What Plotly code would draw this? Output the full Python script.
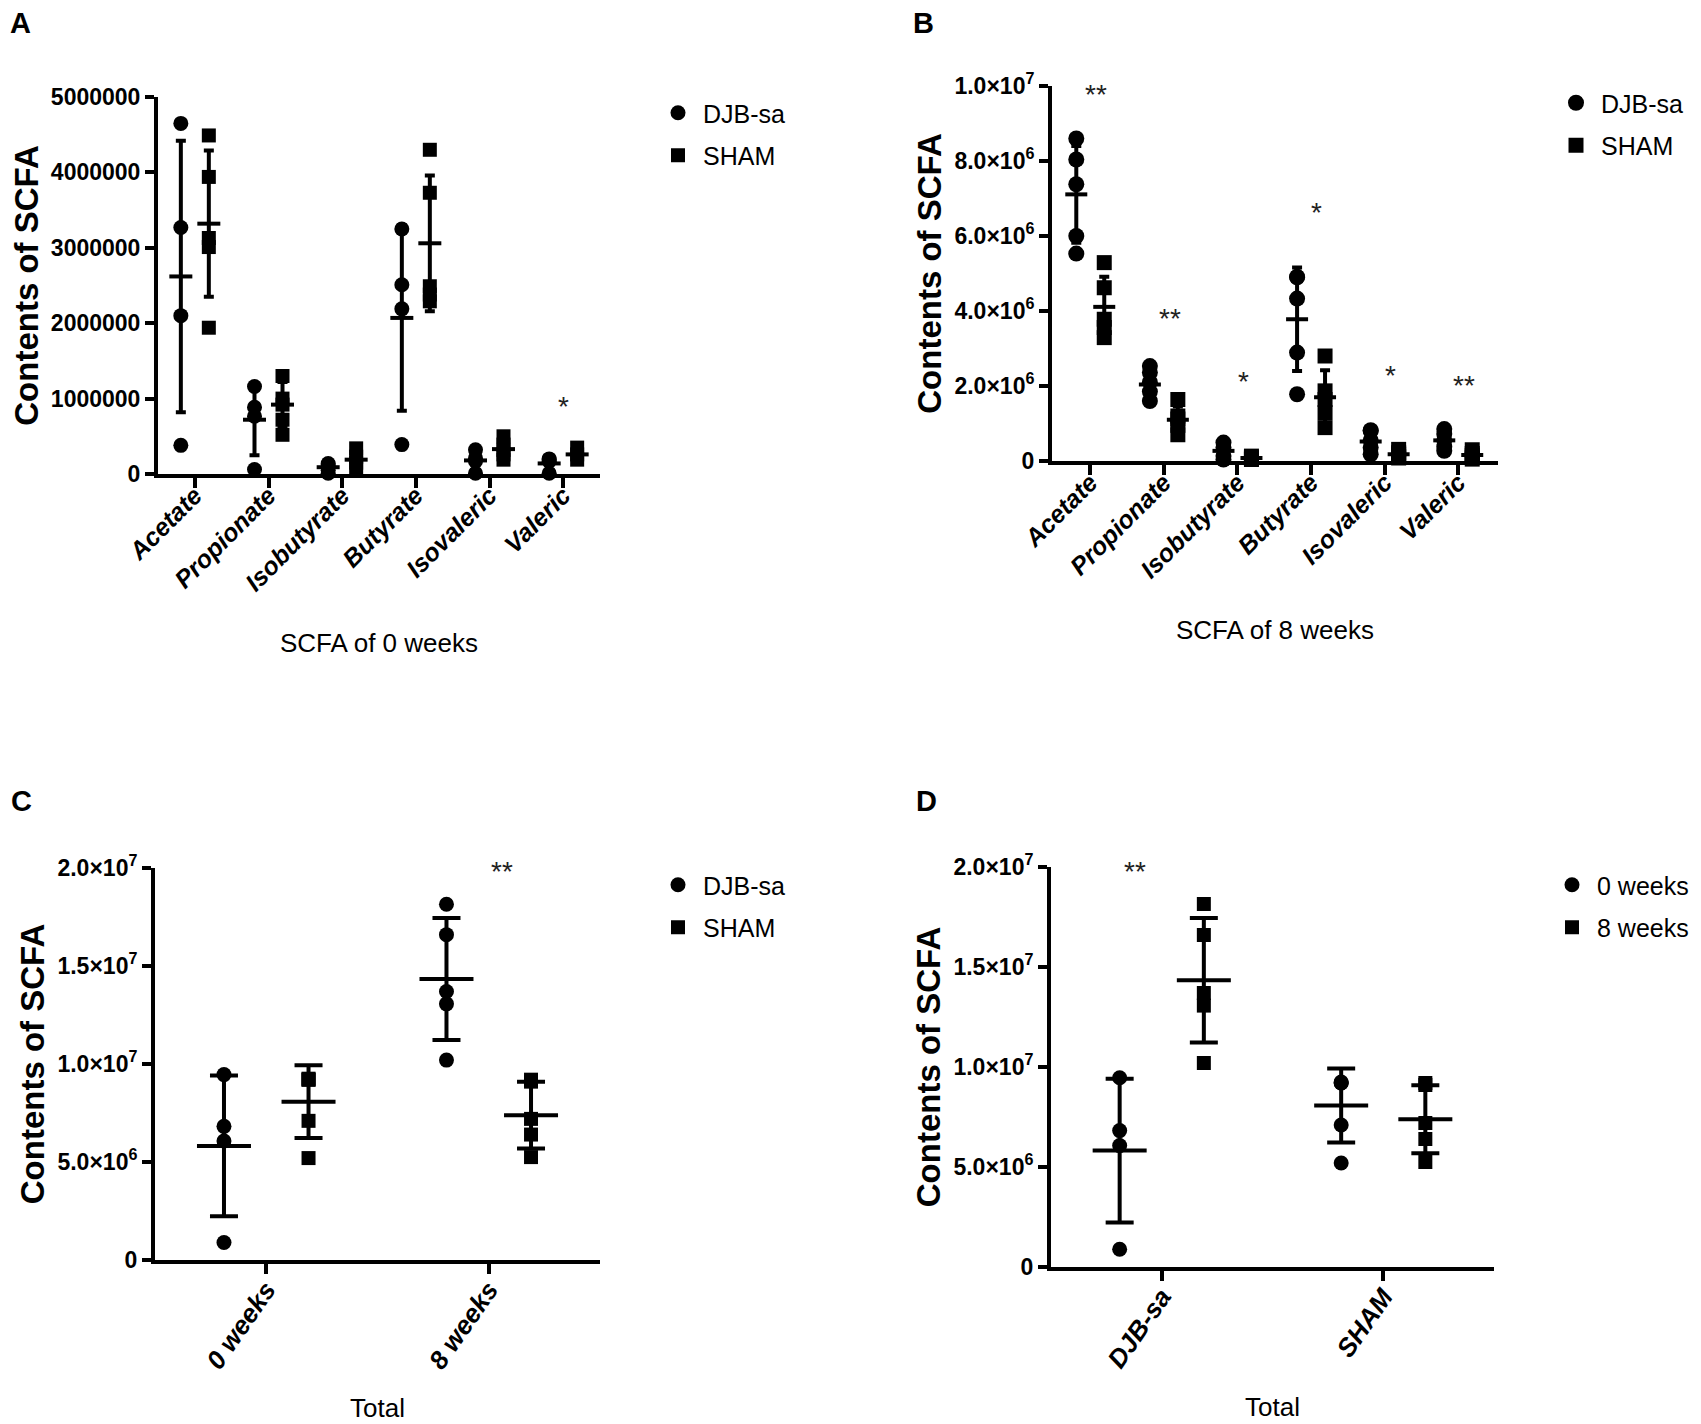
import plotly.graph_objects as go

# ---------------- data ----------------
acids = ["Acetate", "Propionate", "Isobutyrate", "Butyrate", "Isovaleric", "Valeric"]

# Panel A : SCFA of 0 weeks
a_djb_points = [
    [4650000, 3270000, 2100000, 380000],
    [1160000, 885000, 765000, 60000],
    [140000, 120000, 90000, 50000, 10000],
    [3250000, 2510000, 2190000, 390000],
    [320000, 210000, 170000, 10000],
    [200000, 190000, 170000, 10000],
]
a_djb_mean = [2620000, 720000, 90000, 2070000, 180000, 140000]
a_djb_sd = [1800000, 470000, 50000, 1230000, 130000, 90000]
a_sham_points = [
    [4490000, 3940000, 3130000, 3010000, 1940000],
    [1300000, 1000000, 920000, 720000, 520000],
    [340000, 230000, 150000, 80000],
    [4300000, 3730000, 2490000, 2380000, 2290000],
    [500000, 390000, 320000, 260000, 190000],
    [350000, 260000, 190000],
]
a_sham_mean = [3320000, 920000, 190000, 3060000, 330000, 260000]
a_sham_sd = [970000, 300000, 110000, 900000, 120000, 80000]
a_star_idx = [5]
a_star_text = ["*"]
a_star_y = [890000]
a_tickvals = [0, 1000000, 2000000, 3000000, 4000000, 5000000]
a_ticktext = ["0", "1000000", "2000000", "3000000", "4000000", "5000000"]

# Panel B : SCFA of 8 weeks
b_djb_points = [
    [8600000, 8040000, 7380000, 6000000, 5530000],
    [2530000, 2360000, 2100000, 1850000, 1600000],
    [490000, 360000, 130000, 40000],
    [4910000, 4900000, 4330000, 2890000, 1780000],
    [820000, 800000, 550000, 360000, 180000],
    [850000, 720000, 550000, 380000, 270000],
]
b_djb_mean = [7110000, 2040000, 270000, 3780000, 520000, 550000]
b_djb_sd = [1290000, 370000, 200000, 1380000, 270000, 230000]
b_sham_points = [
    [5290000, 4620000, 3780000, 3560000, 3290000],
    [1640000, 1200000, 1120000, 950000, 700000],
    [130000, 90000, 60000, 40000],
    [2800000, 1870000, 1640000, 1290000, 890000],
    [310000, 220000, 180000, 120000, 80000],
    [300000, 200000, 150000, 100000, 50000],
]
b_sham_mean = [4110000, 1100000, 80000, 1700000, 180000, 160000]
b_sham_sd = [800000, 350000, 40000, 720000, 90000, 100000]
b_star_idx = [0, 1, 2, 3, 4, 5]
b_star_text = ["**", "**", "*", "*", "*", "**"]
b_star_y = [9780000, 3800000, 2130000, 6620000, 2270000, 2020000]
b_tickvals = [0, 2000000, 4000000, 6000000, 8000000, 10000000]
b_ticktext = ["0", "2.0×10<sup>6</sup>", "4.0×10<sup>6</sup>", "6.0×10<sup>6</sup>",
              "8.0×10<sup>6</sup>", "1.0×10<sup>7</sup>"]

# Panel C : Total by time
c_groups = ["0 weeks", "8 weeks"]
c_djb_points = [
    [9460000, 6820000, 6070000, 890000],
    [18150000, 16600000, 13700000, 13070000, 10200000],
]
c_djb_mean = [5820000, 14340000]
c_djb_sd = [3590000, 3110000]
c_sham_points = [
    [9250000, 9200000, 9200000, 7100000, 5200000],
    [9200000, 9100000, 7200000, 6400000, 5250000],
]
c_sham_mean = [8080000, 7390000]
c_sham_sd = [1850000, 1700000]
c_star_idx = [1]
c_star_text = ["**"]
c_star_y = [19800000]

# Panel D : Total by group
d_groups = ["DJB-sa", "SHAM"]
d_0w_points = [c_djb_points[0], c_sham_points[0]]
d_0w_mean = [c_djb_mean[0], c_sham_mean[0]]
d_0w_sd = [c_djb_sd[0], c_sham_sd[0]]
d_8w_points = [c_djb_points[1], c_sham_points[1]]
d_8w_mean = [c_djb_mean[1], c_sham_mean[1]]
d_8w_sd = [c_djb_sd[1], c_sham_sd[1]]
d_star_idx = [0]
d_star_text = ["**"]
d_star_y = [19800000]

cd_tickvals = [0, 5000000, 10000000, 15000000, 20000000]
cd_ticktext = ["0", "5.0×10<sup>6</sup>", "1.0×10<sup>7</sup>", "1.5×10<sup>7</sup>", "2.0×10<sup>7</sup>"]

# ---------------- layout helpers ----------------
W, H = 1701, 1424
FONT = "Liberation Sans, Arial, sans-serif"
LW = 4

def px_x(p):
    return p / W

def px_y(p):
    return 1 - p / H

fig = go.Figure()

def add_group(points, means, sds, offset, ax, name, symbol, legend, size, mean_len, cap_hw):
    xs, ys = [], []
    for i, pts in enumerate(points):
        xs += [i + offset] * len(pts)
        ys += pts
    fig.add_trace(go.Scatter(
        x=xs, y=ys, mode="markers", name=name,
        marker=dict(symbol=symbol, size=size, color="black"),
        xaxis="x" + ax, yaxis="y" + ax, legend=legend, legendgroup=legend + name,
        cliponaxis=False))
    fig.add_trace(go.Scatter(
        x=[i + offset for i in range(len(means))], y=means, mode="markers",
        marker=dict(symbol="line-ew", size=mean_len / 1.4, color="black",
                    line=dict(width=LW, color="black")),
        error_y=dict(type="data", array=sds, visible=True, color="black",
                     thickness=LW, width=cap_hw),
        xaxis="x" + ax, yaxis="y" + ax, showlegend=False, cliponaxis=False,
        hoverinfo="skip"))

def add_stars(idx, texts, ys, ax, dx):
    for i, t, yv in zip(idx, texts, ys):
        fig.add_annotation(x=i + dx, y=yv, xref="x" + ax, yref="y" + ax, text=t,
                           showarrow=False, font=dict(family=FONT, size=28, color="#222"))

OFF = 0.19
# A
add_group(a_djb_points, a_djb_mean, a_djb_sd, -OFF, "", "DJB-sa", "circle", "legend", 15, 23, 5)
add_group(a_sham_points, a_sham_mean, a_sham_sd, OFF, "", "SHAM", "square", "legend", 14, 23, 5)
add_stars(a_star_idx, a_star_text, a_star_y, "", 0.0)
# B
add_group(b_djb_points, b_djb_mean, b_djb_sd, -OFF, "2", "DJB-sa", "circle", "legend2", 16, 22, 5)
add_group(b_sham_points, b_sham_mean, b_sham_sd, OFF, "2", "SHAM", "square", "legend2", 15, 22, 5)
add_stars(b_star_idx, b_star_text, b_star_y, "2", 0.08)
# C
add_group(c_djb_points, c_djb_mean, c_djb_sd, -OFF, "3", "DJB-sa", "circle", "legend3", 15, 54, 14)
add_group(c_sham_points, c_sham_mean, c_sham_sd, OFF, "3", "SHAM", "square", "legend3", 14, 54, 14)
add_stars(c_star_idx, c_star_text, c_star_y, "3", 0.06)
# D
add_group(d_0w_points, d_0w_mean, d_0w_sd, -OFF, "4", "0 weeks", "circle", "legend4", 15, 54, 14)
add_group(d_8w_points, d_8w_mean, d_8w_sd, OFF, "4", "8 weeks", "square", "legend4", 14, 54, 14)
add_stars(d_star_idx, d_star_text, d_star_y, "4", -0.12)

def xaxis(dom, anchor, cats, title, xr, angle, fsize, lab_off, standoff):
    return dict(domain=[px_x(dom[0]), px_x(dom[1])], anchor=anchor, range=xr,
                tickmode="array", tickvals=list(range(len(cats))), ticktext=cats,
                tickangle=angle, showline=True, linewidth=LW, linecolor="black",
                ticks="outside", ticklen=10, tickwidth=LW, tickcolor="black",
                showgrid=False, zeroline=False, automargin=False,
                ticklabelstandoff=lab_off,
                tickfont=dict(family=FONT, size=fsize, color="black", weight="bold", style="italic"),
                title=dict(text=title, font=dict(family=FONT, size=26, color="black"),
                           standoff=standoff))

def yaxis(dom, anchor, vals, texts, top):
    return dict(domain=[px_y(dom[1]), px_y(dom[0])], anchor=anchor, range=[0, top],
                tickmode="array", tickvals=vals, ticktext=texts,
                showline=True, linewidth=LW, linecolor="black",
                ticks="outside", ticklen=9, tickwidth=LW, tickcolor="black",
                showgrid=False, zeroline=False, automargin=False,
                tickfont=dict(family=FONT, size=23, color="black", weight="bold"),
                title=dict(text="Contents of SCFA",
                           font=dict(family=FONT, size=33, color="black", weight="bold"),
                           standoff=4))

def legend(xc, yc):
    return dict(x=px_x(xc - 33), y=px_y(yc - 33), xanchor="left", yanchor="top",
                font=dict(family=FONT, size=25, color="black"), bgcolor="rgba(0,0,0,0)",
                traceorder="grouped", tracegroupgap=7, itemsizing="trace", itemwidth=40)

fig.update_layout(
    width=W, height=H, margin=dict(l=0, r=0, t=0, b=0, autoexpand=False),
    paper_bgcolor="white", plot_bgcolor="white",
    font=dict(family=FONT, color="black"),
    xaxis=xaxis((150, 592), "y", acids, "SCFA of 0 weeks", [-0.5, 5.5], -45, 25, -17, 40),
    yaxis=yaxis((89, 466), "x", a_tickvals, a_ticktext, 5000000),
    xaxis2=xaxis((1044, 1490), "y2", acids, "SCFA of 8 weeks", [-0.52, 5.54], -45, 25, -17, 40),
    yaxis2=yaxis((78, 453), "x2", b_tickvals, b_ticktext, 10000000),
    xaxis3=xaxis((147, 592), "y3", c_groups, "Total", [-0.5, 1.5], -55, 26, -10, 26),
    yaxis3=yaxis((860, 1252), "x3", cd_tickvals, cd_ticktext, 20000000),
    xaxis4=xaxis((1043, 1486), "y4", d_groups, "Total", [-0.5, 1.5], -55, 26, -10, 26),
    yaxis4=yaxis((859, 1259), "x4", cd_tickvals, cd_ticktext, 20000000),
    legend=legend(678, 115),
    legend2=legend(1576, 105),
    legend3=legend(678, 887),
    legend4=legend(1572, 887),
    showlegend=True,
)

for letter, xc, yc in [("A", 12, 15), ("B", 915, 15), ("C", 13, 793), ("D", 918, 793)]:
    fig.add_annotation(x=px_x(xc), y=px_y(yc), xref="paper", yref="paper", text=letter,
                       showarrow=False, xanchor="center", yanchor="middle",
                       font=dict(family=FONT, size=29, color="black", weight="bold"))

fig.write_html("out.html")
